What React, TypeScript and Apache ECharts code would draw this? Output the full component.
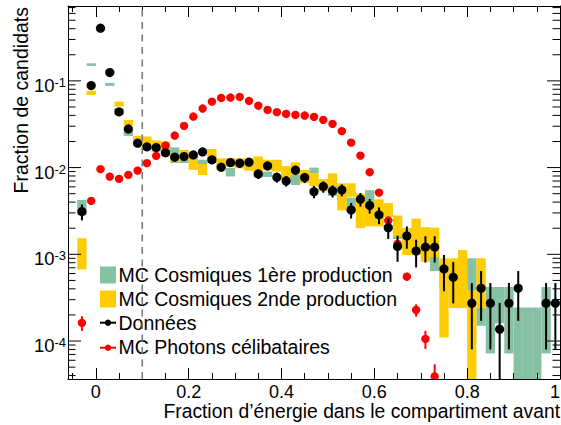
import React, { useEffect, useRef } from 'react';
import * as echarts from 'echarts';

// Bin centres (bin width 0.02)
const binCenters = [-0.03, -0.01, 0.01, 0.03, 0.05, 0.07, 0.09, 0.11, 0.13, 0.15, 0.17, 0.19, 0.21, 0.23, 0.25, 0.27, 0.29, 0.31, 0.33, 0.35, 0.37, 0.39, 0.41, 0.43, 0.45, 0.47, 0.49, 0.51, 0.53, 0.55, 0.57, 0.59, 0.61, 0.63, 0.65, 0.67, 0.69, 0.71, 0.73, 0.75, 0.77, 0.79, 0.81, 0.83, 0.85, 0.87, 0.89, 0.91, 0.93, 0.95, 0.97, 0.99];

// Données
const dataValues = [3.11e-3, 0.0883, 0.405, 0.1247, 0.0439, 0.0279, 0.0191, 0.01734, 0.01702, 0.01479, 0.01319, 0.0134, 0.014, 0.01517, 0.01228, 0.0101, 0.01142, 0.01124, 0.01154, 0.00845, 0.01047, 0.00774, 0.00702, 0.00933, 0.00767, 0.00528, 0.00604, 0.00538, 0.00553, 0.00325, 0.00432, 0.00365, 0.00285, 0.00203, 0.00123, 0.00163, 0.00109, 0.00121, 0.00121, 6.79e-4, 5.44e-4, null, 2.73e-4, 4.06e-4, 2.73e-4, 1.37e-4, 2.73e-4, 4.06e-4, null, null, 2.73e-4, 2.73e-4];
const dataErrors = [6.5e-4, 3.47e-3, 7.4e-3, 4.1e-3, 2.44e-3, 1.95e-3, 1.61e-3, 1.54e-3, 1.52e-3, 1.42e-3, 1.34e-3, 1.35e-3, 1.38e-3, 1.44e-3, 1.29e-3, 1.17e-3, 1.25e-3, 1.24e-3, 1.25e-3, 1.07e-3, 1.19e-3, 1.03e-3, 9.8e-4, 1.13e-3, 1.02e-3, 8.5e-4, 9.1e-4, 8.6e-4, 8.7e-4, 6.6e-4, 7.7e-4, 7.0e-4, 6.2e-4, 5.3e-4, 4.1e-4, 4.7e-4, 3.85e-4, 4.06e-4, 4.06e-4, 3.04e-4, 2.72e-4, null, 1.93e-4, 2.35e-4, 1.93e-4, 1.37e-4, 1.93e-4, 2.35e-4, null, null, 1.93e-4, 1.93e-4];

// MC Photons célibataires
const photonValues = [1.62e-4, 4.13e-3, 9.6e-3, 7.87e-3, 7.41e-3, 8.24e-3, 9.23e-3, 0.01125, 0.01365, 0.01795, 0.0234, 0.0303, 0.0388, 0.048, 0.0577, 0.0637, 0.0642, 0.0653, 0.0588, 0.0517, 0.0463, 0.0436, 0.0416, 0.0405, 0.0398, 0.0384, 0.0355, 0.0319, 0.0263, 0.0194, 0.01375, 0.00885, 0.00515, 0.00245, 0.00132, 5.53e-4, 2.28e-4, 1.06e-4, 3.9e-5, null, null, null, null, null, null, null, null, null, null, null, null, null];
const photonErrors = [3.1e-5, 1.6e-4, 2.4e-4, 2.2e-4, 2.1e-4, 2.2e-4, 2.4e-4, 2.6e-4, 2.9e-4, 3.3e-4, 3.7e-4, 4.3e-4, 4.8e-4, 5.4e-4, 5.9e-4, 6.2e-4, 6.2e-4, 6.3e-4, 5.9e-4, 5.6e-4, 5.3e-4, 5.1e-4, 5.0e-4, 4.9e-4, 4.9e-4, 4.8e-4, 4.6e-4, 4.4e-4, 4.0e-4, 3.4e-4, 2.9e-4, 2.3e-4, 1.8e-4, 1.2e-4, 8.9e-5, 5.8e-5, 3.7e-5, 2.5e-5, 1.5e-5, null, null, null, null, null, null, null, null, null, null, null, null, null];

// MC Cosmiques 1ère production
const cosmic1Values = [3.54e-3, 0.154, 0.4, 0.091, 0.0447, 0.025, 0.0195, 0.0178, 0.0166, 0.0155, 0.0142, 0.0121, 0.0125, 0.0116, 0.0125, 0.0113, 0.0089, 0.0115, 0.0105, 0.009, 0.0084, 0.0107, 0.0085, 0.0073, 0.0079, 0.0093, 0.0064, 0.0055, 0.005, 0.0038, 0.0042, 0.0043, 0.0029, 0.0032, 0.002, 0.0016, 0.0013, 0.0016, 8.0e-4, 6.0e-4, 5.0e-4, 3.05e-4, 6.4e-4, 1.95e-4, 2.46e-4, 2.9e-4, 2.46e-4, 1.22e-4, 1.22e-4, 1.22e-4, 2.46e-4, null];
const cosmic1Errors = [7.0e-4, 0.0055, 0.012, 0.0036, 0.004, 0.0018, 0.0015, 0.0012, 0.0013, 0.0012, 0.0029, 0.0008, 0.001, 0.0007, 0.001, 0.001, 0.001, 0.001, 0.001, 0.0013, 0.0006, 0.0016, 0.001, 0.001, 0.001, 0.0007, 0.0009, 0.0008, 0.0008, 0.0007, 0.0007, 0.0012, 0.0006, 0.0005, 0.0005, 0.0004, 0.0003, 0.0004, 1.6e-4, 2.0e-4, 1.5e-4, 6.5e-5, 2.6e-4, 4.5e-5, 1.74e-4, 1.3e-4, 1.74e-4, 1.22e-4, 1.22e-4, 1.22e-4, 1.74e-4, null];

// MC Cosmiques 2nde production
const cosmic2Values = [1.1e-3, 0.0728, 0.395, 0.125, 0.0541, 0.0331, 0.0207, 0.0194, 0.0185, 0.018, 0.0129, 0.0141, 0.0112, 0.0096, 0.0139, 0.0111, 0.0115, 0.0113, 0.011, 0.0112, 0.0108, 0.0106, 0.009, 0.0099, 0.008, 0.00735, 0.0063, 0.00735, 0.0049, 0.0056, 0.0035, 0.0028, 0.0032, 0.0033, 0.0022, 0.00148, 0.00178, 0.00144, 0.00148, 5.05e-4, 5.7e-4, 6.8e-4, 1.9e-4, 5.7e-4, null, null, null, null, null, null, null, null];
const cosmic2Errors = [4.3e-4, 0.004, 0.02, 0.005, 0.0036, 0.0024, 0.0025, 0.0034, 0.002, 0.002, 0.0013, 0.0019, 0.0018, 0.0014, 0.0025, 0.0017, 0.0013, 0.0015, 0.0018, 0.0022, 0.0015, 0.0016, 0.0014, 0.0016, 0.0014, 0.00125, 0.001, 0.00125, 0.0017, 0.001, 0.0015, 0.0007, 0.0011, 0.0006, 0.0006, 0.0005, 0.0008, 0.00062, 0.00055, 3.95e-4, 3.3e-4, 4.4e-4, 1.9e-4, 3.3e-4, null, null, null, null, null, null, null, null];

const xTickLabels = [0, 0.2, 0.4, 0.6, 0.8, 1];
const yDecades = [1e-5, 1e-4, 1e-3, 1e-2, 1e-1];
const cutValue = 0.1;

const X_MIN = -0.06;
const X_MAX = 1.0;
const Y_MIN = 3.65e-5;
const Y_MAX = 0.73;
const HALF_BIN = 0.01;

const FONT = '"Liberation Sans", Arial, Helvetica, sans-serif';
const GREEN = '#86c1a4';
const YELLOW = '#ffcc00';
const RED = '#ff0000';
const BLACK = '#000000';

function rows(values: (number | null)[], errors: (number | null)[]) {
  const out: number[][] = [];
  binCenters.forEach((x, i) => {
    const v = values[i];
    if (v != null) out.push([x, v, errors[i] ?? 0]);
  });
  return out;
}

function boxRenderer(color: string) {
  return (_p: any, api: any) => {
    const x = api.value(0);
    const v = api.value(1);
    const e = api.value(2);
    const hi = v + e;
    const lo = Math.max(v - e, Y_MIN * 0.3);
    const p0 = api.coord([x - HALF_BIN, hi]);
    const p1 = api.coord([x + HALF_BIN, lo]);
    return {
      type: 'rect',
      shape: { x: p0[0], y: p0[1], width: p1[0] - p0[0], height: Math.max(p1[1] - p0[1], 1.5) },
      style: { fill: color },
    };
  };
}

function pointRenderer(color: string, r: number) {
  return (_p: any, api: any) => {
    const x = api.value(0);
    const v = api.value(1);
    const e = api.value(2);
    const c = api.coord([x, v]);
    const top = api.coord([x, v + e]);
    const bot = api.coord([x, Math.max(v - e, Y_MIN * 0.3)]);
    return {
      type: 'group',
      children: [
        { type: 'line', shape: { x1: c[0], y1: top[1], x2: c[0], y2: bot[1] }, style: { stroke: color, lineWidth: 2 } },
        { type: 'circle', shape: { cx: c[0], cy: c[1], r }, style: { fill: color } },
      ],
    };
  };
}

// y tick rows: [x, value, length]
function yTickRows() {
  const out: number[][] = [];
  yDecades.forEach((d) => {
    for (let m = 1; m <= 9; m++) {
      const v = m * d;
      if (v >= Y_MIN && v <= Y_MAX) out.push([X_MIN, v, m === 1 ? 13 : 7.5]);
    }
  });
  return out;
}

export default function App() {
  const ref = useRef<HTMLDivElement>(null);

  useEffect(() => {
    if (!ref.current) return;
    document.body.style.margin = '0';
    document.body.style.overflow = 'hidden';
    const chart = echarts.init(ref.current, undefined, { renderer: 'svg' });

    const xAxisCommon = {
      type: 'value',
      min: X_MIN,
      max: X_MAX,
      splitNumber: 5,
      z: 10,
      splitLine: { show: false },
      axisLine: { show: true, onZero: false, lineStyle: { color: BLACK, width: 1 } },
      axisTick: { show: true, inside: true, length: 11, lineStyle: { color: BLACK, width: 1 } },
      minorTick: { show: true, splitNumber: 4, length: 6, lineStyle: { color: BLACK, width: 1 } },
    };
    const yAxisCommon = {
      type: 'log',
      logBase: 10,
      min: Y_MIN,
      max: Y_MAX,
      z: 10,
      splitLine: { show: false },
      axisTick: { show: false },
      minorTick: { show: false },
      axisLine: { show: true, onZero: false, lineStyle: { color: BLACK, width: 1 } },
    };

    const option: any = {
      animation: false,
      backgroundColor: '#ffffff',
      grid: { left: 68, right: 1, top: 6, bottom: 46, containLabel: false, outerBoundsMode: 'none' },
      xAxis: [
        {
          ...xAxisCommon,
          position: 'bottom',
          axisLabel: {
            show: true,
            interval: 0,
            margin: 5,
            color: BLACK,
            fontFamily: FONT,
            fontSize: 18,
            lineHeight: 15,
            alignMaxLabel: 'right',
            formatter: (v: number) => {
              const hit = xTickLabels.find((t) => Math.abs(t - v) < 1e-6);
              return hit === undefined ? '' : String(hit);
            },
          },
        },
        { ...xAxisCommon, position: 'top', axisLabel: { show: false } },
      ],
      yAxis: [
        {
          ...yAxisCommon,
          position: 'left',
          axisLabel: {
            show: true,
            margin: 2,
            color: BLACK,
            padding: [9, 0, 0, 0],
            formatter: (v: number) => {
              const e = Math.log10(v);
              const r = Math.round(e);
              if (Math.abs(e - r) > 1e-6) return '';
              return `{b|10}{s|${r}}`;
            },
            rich: {
              b: { fontFamily: FONT, fontSize: 18.5, color: BLACK },
              s: { fontFamily: FONT, fontSize: 13, color: BLACK, verticalAlign: 'top', padding: [0, 0, 3, 0] },
            },
          },
        },
        { ...yAxisCommon, position: 'right', axisLabel: { show: false } },
      ],
      series: [
        {
          name: 'MC Cosmiques 1ère production',
          type: 'custom',
          clip: true,
          z: 2,
          itemStyle: { color: GREEN },
          data: rows(cosmic1Values, cosmic1Errors),
          renderItem: boxRenderer(GREEN),
        },
        {
          name: 'MC Cosmiques 2nde production',
          type: 'custom',
          clip: true,
          z: 3,
          itemStyle: { color: YELLOW },
          data: rows(cosmic2Values, cosmic2Errors),
          renderItem: boxRenderer(YELLOW),
        },
        {
          name: 'MC Photons célibataires',
          type: 'custom',
          clip: true,
          z: 4,
          itemStyle: { color: RED },
          data: rows(photonValues, photonErrors),
          renderItem: pointRenderer(RED, 4.2),
        },
        {
          name: 'Données',
          type: 'custom',
          clip: true,
          z: 5,
          itemStyle: { color: BLACK },
          data: rows(dataValues, dataErrors),
          renderItem: pointRenderer(BLACK, 4.6),
        },
        {
          name: 'coupure',
          type: 'custom',
          clip: true,
          z: 20,
          silent: true,
          data: [[cutValue, Y_MAX]],
          renderItem: (_p: any, api: any) => {
            const a = api.coord([api.value(0), Y_MIN]);
            const b = api.coord([api.value(0), Y_MAX]);
            return {
              type: 'line',
              shape: { x1: a[0], y1: a[1], x2: b[0], y2: b[1] },
              style: { stroke: '#7a7a7a', lineWidth: 1.6, lineDash: [7, 5.5] },
            };
          },
        },
        {
          name: 'yticks',
          type: 'custom',
          clip: false,
          z: 20,
          silent: true,
          data: yTickRows(),
          renderItem: (_p: any, api: any) => {
            const v = api.value(1);
            const len = api.value(2);
            const l = api.coord([X_MIN, v]);
            const r = api.coord([X_MAX, v]);
            return {
              type: 'group',
              children: [
                { type: 'line', shape: { x1: l[0], y1: l[1], x2: l[0] + len, y2: l[1] }, style: { stroke: BLACK, lineWidth: 1 } },
                { type: 'line', shape: { x1: r[0], y1: r[1], x2: r[0] - len, y2: r[1] }, style: { stroke: BLACK, lineWidth: 1 } },
              ],
            };
          },
        },
      ],
      graphic: [
        // axis titles
        {
          type: 'text',
          z: 30,
          x: 560,
          y: 411,
          style: { text: 'Fraction d’énergie dans le compartiment avant', font: `19.3px ${FONT}`, fill: BLACK, align: 'right', verticalAlign: 'middle' },
        },
        {
          type: 'text',
          z: 30,
          x: 20.5,
          y: 7,
          rotation: Math.PI / 2,
          style: { text: 'Fraction de candidats', font: `19.5px ${FONT}`, fill: BLACK, align: 'right', verticalAlign: 'middle' },
        },
        // legend
        { type: 'rect', z: 15, shape: { x: 100, y: 266.5, width: 16, height: 17 }, style: { fill: GREEN } },
        { type: 'text', z: 15, x: 118.5, y: 275, style: { text: 'MC Cosmiques 1ère production', font: `19.5px ${FONT}`, fill: BLACK, verticalAlign: 'middle' } },
        { type: 'rect', z: 15, shape: { x: 100, y: 290.5, width: 16, height: 17 }, style: { fill: YELLOW } },
        { type: 'text', z: 15, x: 118.5, y: 298.5, style: { text: 'MC Cosmiques 2nde production', font: `19.5px ${FONT}`, fill: BLACK, verticalAlign: 'middle' } },
        { type: 'line', z: 15, shape: { x1: 100, y1: 322.7, x2: 116, y2: 322.7 }, style: { stroke: BLACK, lineWidth: 2 } },
        { type: 'circle', z: 15, shape: { cx: 108, cy: 322.7, r: 3.2 }, style: { fill: BLACK } },
        { type: 'text', z: 15, x: 118.5, y: 323.2, style: { text: 'Données', font: `19.5px ${FONT}`, fill: BLACK, verticalAlign: 'middle' } },
        { type: 'line', z: 15, shape: { x1: 100, y1: 347.7, x2: 116, y2: 347.7 }, style: { stroke: RED, lineWidth: 2 } },
        { type: 'circle', z: 15, shape: { cx: 108, cy: 347.7, r: 3.2 }, style: { fill: RED } },
        { type: 'text', z: 15, x: 118.5, y: 346.8, style: { text: 'MC Photons célibataires', font: `19.5px ${FONT}`, fill: BLACK, verticalAlign: 'middle' } },
      ],
    };

    chart.setOption(option);
    return () => chart.dispose();
  }, []);

  return <div ref={ref} style={{ width: 561, height: 425, position: 'absolute', left: 0, top: 0, overflow: 'hidden' }} />;
}
